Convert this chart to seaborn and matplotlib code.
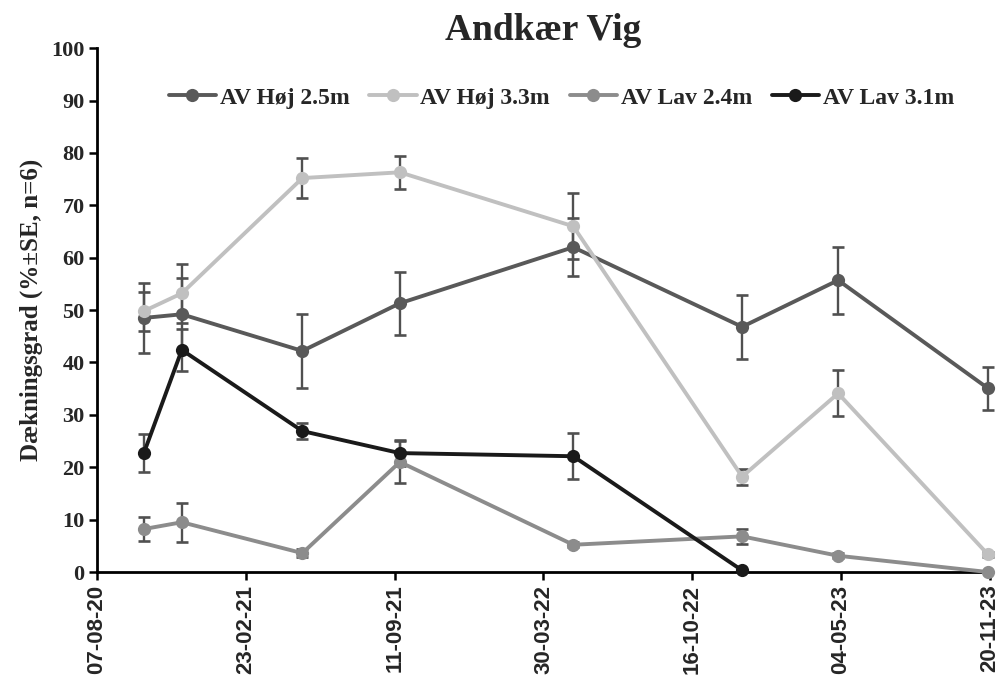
import numpy as np
import pandas as pd
import seaborn as sns
import matplotlib.pyplot as plt
import matplotlib.dates as mdates

# Sampling dates and mean cover (% +- SE) per station
dates = ["2020-10-09", "2020-11-29", "2021-05-10", "2021-09-18",
         "2022-05-09", "2022-12-22", "2023-04-30", "2023-11-17"]
hoj25 = [48.5, 49.2, 42.2, 51.3, 62.0, 46.8, 55.7, 35.1]
hoj25_se = [6.7, 6.9, 7.1, 6.0, 5.5, 6.1, 6.4, 4.1]
hoj33 = [49.8, 53.2, 75.2, 76.3, 66.0, 18.2, 34.1, 3.4]
hoj33_se = [3.7, 5.6, 3.8, 3.2, 6.3, 1.5, 4.4, 0.5]
lav24 = [8.2, 9.5, 3.6, 21.0, 5.2, 6.8, 3.1, 0.0]
lav24_se = [2.3, 3.7, 0.8, 4.0, 0.5, 1.5, 0.5, 0.0]
lav31 = [22.7, 42.4, 26.9, 22.7, 22.1, 0.3, np.nan, np.nan]
lav31_se = [3.7, 4.0, 1.6, 2.5, 4.4, 0.0, np.nan, np.nan]

series = ["AV Høj 2.5m", "AV Høj 3.3m", "AV Lav 2.4m", "AV Lav 3.1m"]
colors = ["#595959", "#c0c0c0", "#8c8c8c", "#1a1a1a"]
values = [hoj25, hoj33, lav24, lav31]
errors = [hoj25_se, hoj33_se, lav24_se, lav31_se]

tick_start = "2020-08-07"
tick_step_days = 200
n_ticks = 7

# long-form table for seaborn
rows = []
for name, vals, ses in zip(series, values, errors):
    for d, v, s in zip(dates, vals, ses):
        rows.append({"date": pd.Timestamp(d), "station": name, "cover": v, "se": s})
df = pd.DataFrame(rows).dropna()

sns.set_style("ticks")
plt.rcParams['font.family'] = ['Liberation Serif', 'DejaVu Serif']

fig = plt.figure(figsize=(10.04, 6.88), dpi=100)
ax = fig.add_axes([0.0966, 0.1686, 0.8894, 0.7614])

# error bars first so the markers sit on top
for name in series:
    sub = df[df.station == name]
    ax.errorbar(sub.date, sub.cover, yerr=sub.se, fmt="none", ecolor="#505050",
                elinewidth=1.7, capsize=4, capthick=1.9, zorder=2, clip_on=False)

sns.lineplot(data=df, x="date", y="cover", hue="station", hue_order=series,
             palette=colors, marker="o", markersize=9.5, markeredgewidth=0,
             linewidth=2.8, dashes=False, ax=ax, zorder=3, clip_on=False)

ticks = pd.date_range(tick_start, periods=n_ticks, freq=f"{tick_step_days}D")
ax.set_xlim(ticks[0], ticks[-1])
ax.set_xticks(ticks)
ax.xaxis.set_major_formatter(mdates.DateFormatter("%d-%m-%y"))
for lab in ax.get_xticklabels():
    lab.set_rotation(90)
    lab.set_fontfamily("Liberation Sans")
    lab.set_fontweight("bold")
    lab.set_fontsize(16)

ax.set_ylim(0, 100)
ax.set_yticks(range(0, 101, 10))
for lab in ax.get_yticklabels():
    lab.set_fontweight("bold")
    lab.set_fontsize(16)

ax.set_xlabel("")
ax.set_ylabel("Dækningsgrad (%±SE, n=6)", fontsize=18, fontweight="bold", labelpad=6)
ax.set_title("Andkær Vig", fontsize=27, fontweight="bold", pad=2)

sns.despine(ax=ax)
for side in ["left", "bottom"]:
    ax.spines[side].set_linewidth(2)
    ax.spines[side].set_color("black")
ax.tick_params(axis="both", width=1.8, length=6, color="black", pad=3)

leg = ax.legend(loc="center", bbox_to_anchor=(0.52, 0.905), ncol=4, frameon=False,
                prop={"family": "Liberation Serif", "weight": "bold", "size": 17},
                handlelength=2.0, columnspacing=0.85, handletextpad=0.15)

plt.savefig("out.png", dpi=100)
